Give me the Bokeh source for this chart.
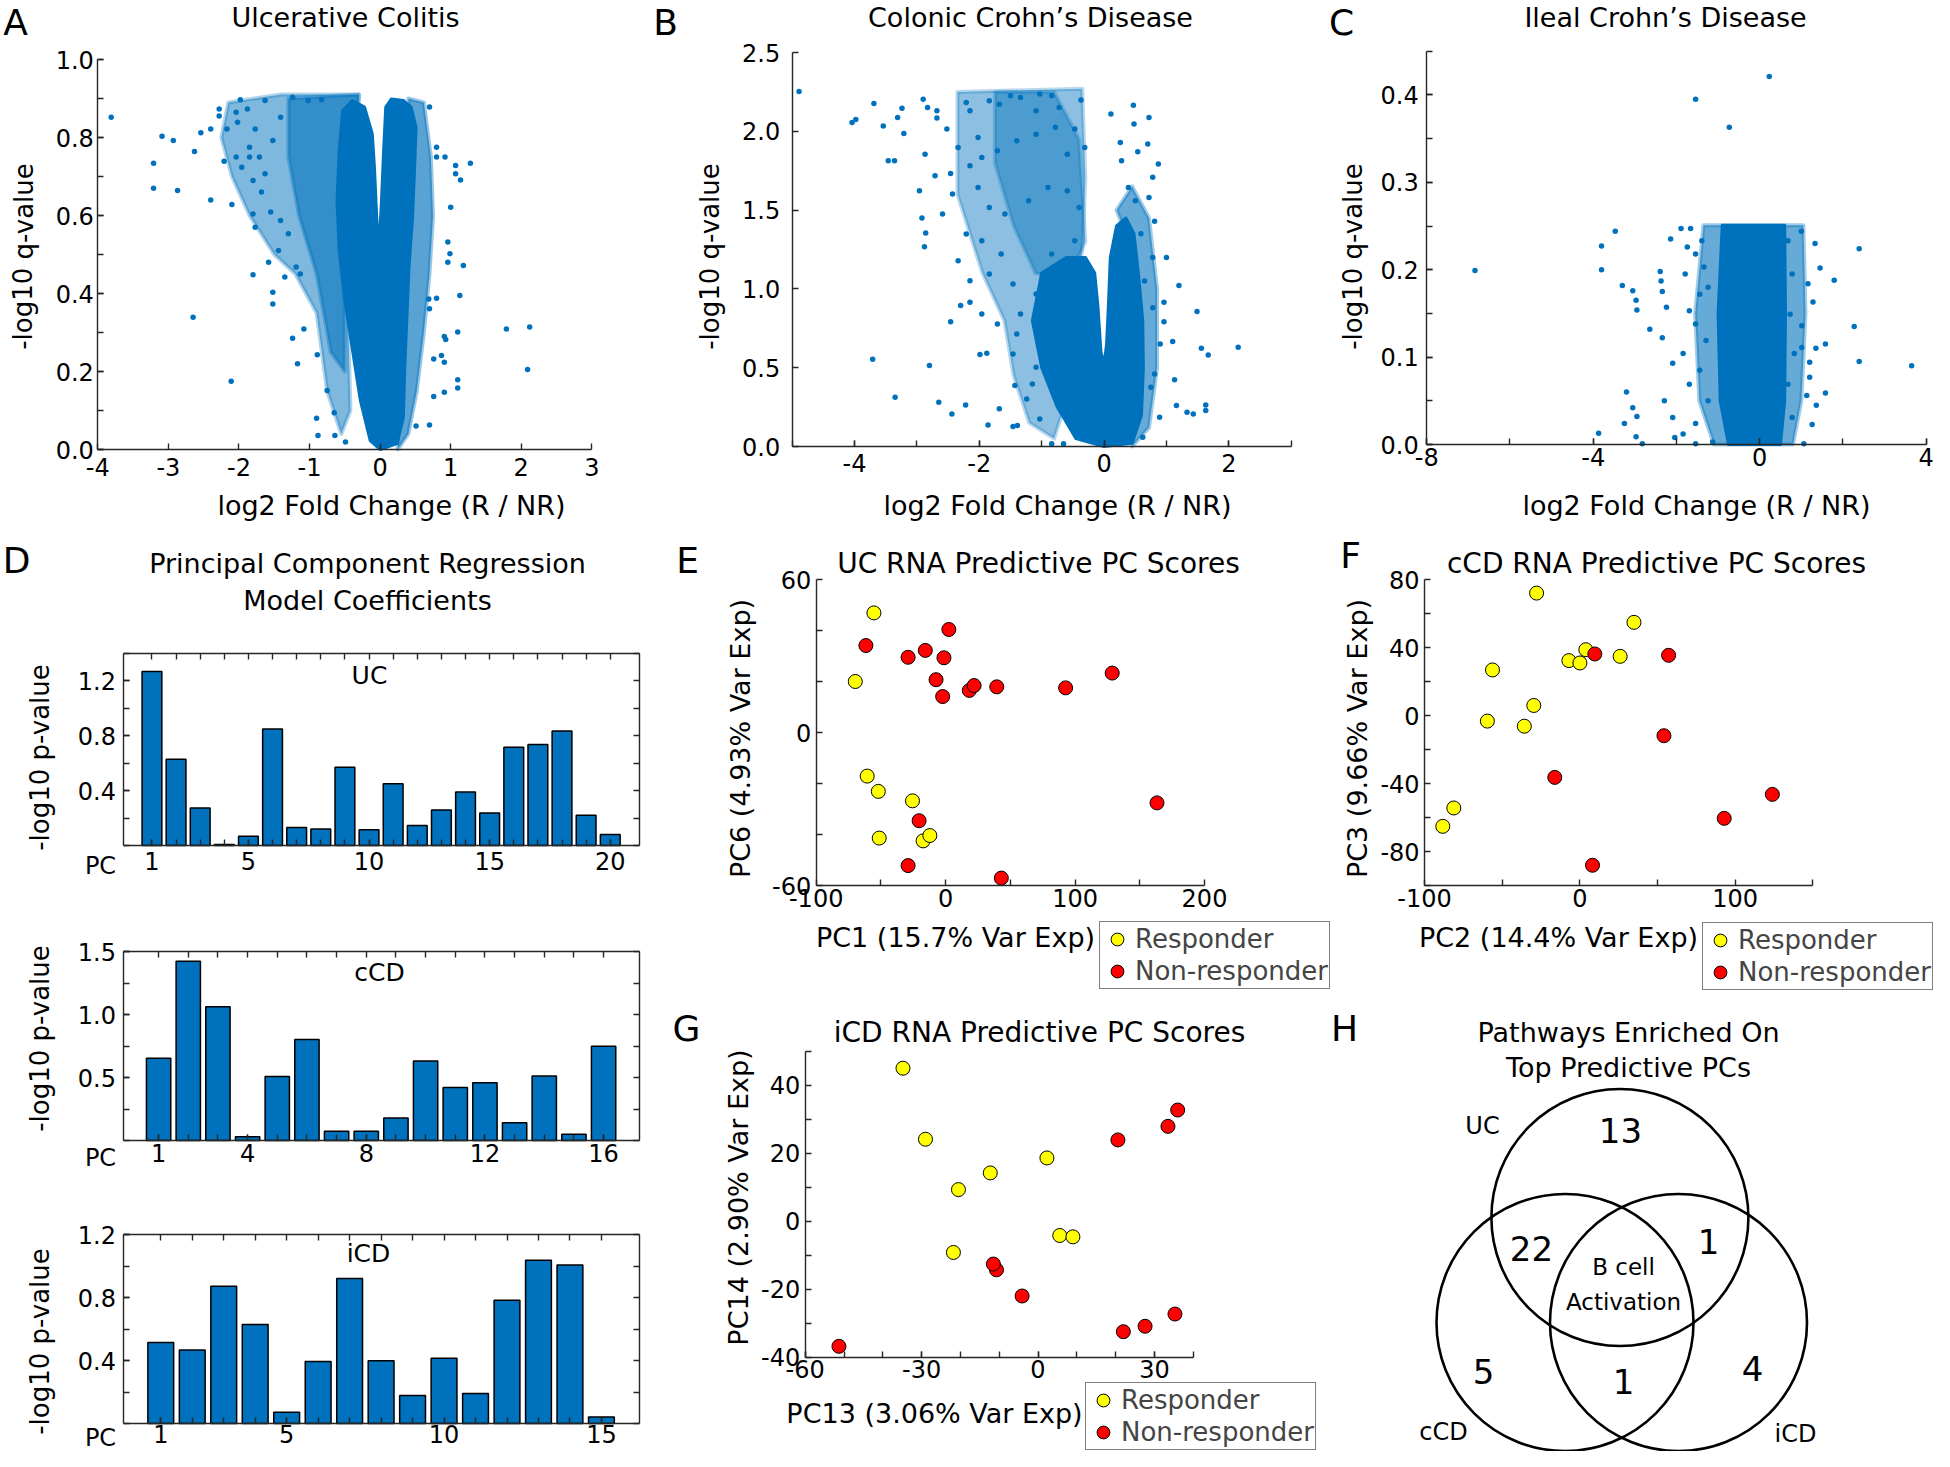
from bokeh.plotting import figure
from bokeh.models import (Range1d, FixedTicker, PrintfTickFormatter, Label,
                          LinearAxis, Legend, LegendItem)
from bokeh.layouts import row, column
from bokeh.embed import file_html
from bokeh.resources import INLINE
from bokeh.core.properties import value

FONT = "DejaVu Sans"
BLUE = "#0072BD"
AXC = "#262626"
YEL = "#FFFF00"
RED = "#FF0000"

# ===================== DATA =====================
# ---- A: Ulcerative Colitis volcano (log2 FC, -log10 q) ----
uc_core = [(0.0, 0.0), (0.24, 0.015), (0.33, 0.083), (0.35, 0.211), (0.38, 0.339), (0.41, 0.468),
           (0.46, 0.596), (0.49, 0.724), (0.51, 0.826), (0.44, 0.878), (0.33, 0.895), (0.16, 0.899),
           (0.08, 0.878), (0.05, 0.767), (0.02, 0.638), (-0.02, 0.502), (-0.05, 0.604), (-0.08, 0.724),
           (-0.11, 0.809), (-0.22, 0.878), (-0.39, 0.895), (-0.53, 0.869), (-0.58, 0.767), (-0.61, 0.638),
           (-0.58, 0.51), (-0.50, 0.382), (-0.39, 0.254), (-0.28, 0.126), (-0.14, 0.023)]
uc_halo_light = [(-2.15, 0.89), (-1.4, 0.91), (-0.3, 0.91), (-0.45, 0.3), (-0.42, 0.1), (-0.55, 0.04),
                 (-0.75, 0.15), (-0.9, 0.35), (-1.2, 0.45), (-1.5, 0.5), (-1.85, 0.6), (-2.1, 0.7), (-2.25, 0.8)]
uc_halo_mid = [(-1.3, 0.9), (-0.3, 0.91), (-0.5, 0.45), (-0.5, 0.2), (-0.7, 0.25), (-0.9, 0.45),
               (-1.15, 0.6), (-1.3, 0.75)]
uc_halo_right = [(0.4, 0.9), (0.62, 0.89), (0.72, 0.75), (0.75, 0.6), (0.7, 0.45), (0.62, 0.3),
                 (0.52, 0.15), (0.4, 0.04), (0.25, 0.0), (0.3, 0.3), (0.45, 0.6)]
uc_points = [(-3.81, 0.852), (-3.09, 0.803), (-2.93, 0.792), (-3.21, 0.734), (-3.21, 0.670), (-2.87, 0.664),
             (-2.63, 0.764), (-2.40, 0.640), (-2.54, 0.812), (-2.40, 0.822), (-2.28, 0.873), (-2.28, 0.855),
             (-2.17, 0.822), (-2.21, 0.739), (-2.10, 0.628), (-2.65, 0.339), (-2.11, 0.175), (-1.80, 0.448),
             (-1.52, 0.403), (-1.52, 0.373), (-1.24, 0.285), (-1.17, 0.220), (-1.08, 0.309), (-0.90, 0.080),
             (-0.88, 0.036), (-0.64, 0.036), (-0.49, 0.019), (-0.89, 0.243), (-0.75, 0.151), (-0.65, 0.094),
             (1.79, 0.309), (2.12, 0.314), (2.09, 0.205), (1.28, 0.734), (1.07, 0.728), (1.07, 0.707),
             (1.14, 0.691), (1.00, 0.621), (1.18, 0.472), (1.13, 0.395), (1.10, 0.301), (1.10, 0.179),
             (1.10, 0.158), (0.91, 0.147), (0.76, 0.136), (0.76, 0.232), (0.91, 0.224), (0.91, 0.290),
             (0.93, 0.282), (0.87, 0.241), (0.96, 0.480), (0.99, 0.502), (0.96, 0.532), (0.92, 0.750),
             (0.80, 0.750), (0.80, 0.775), (0.70, 0.878), (0.70, 0.063), (0.51, 0.060), (0.80, 0.388),
             (0.69, 0.386), (0.70, 0.361),
             (-1.98, 0.897), (-1.88, 0.873), (-2.04, 0.865), (-2.02, 0.839), (-1.85, 0.775), (-2.04, 0.750),
             (-1.96, 0.724), (-1.80, 0.690), (-1.68, 0.660), (-1.80, 0.604), (-1.77, 0.570), (-1.55, 0.609),
             (-1.41, 0.587), (-1.44, 0.510), (-1.30, 0.553), (-1.19, 0.468), (-1.13, 0.450), (-1.58, 0.480),
             (-1.35, 0.442), (-1.85, 0.750), (-1.63, 0.707), (-1.52, 0.792), (-1.41, 0.852), (-1.63, 0.895),
             (-1.24, 0.903), (-1.02, 0.895), (-0.83, 0.897), (-1.77, 0.822), (-1.71, 0.750)]

# ---- B: Colonic Crohn's Disease volcano ----
ccd_core = [(0.0, 0.0), (0.45, 0.02), (0.6, 0.2), (0.63, 0.5), (0.62, 0.8), (0.55, 1.1), (0.48, 1.35),
            (0.35, 1.45), (0.2, 1.4), (0.1, 1.2), (0.07, 0.9), (0.04, 0.65), (0.0, 0.52), (-0.05, 0.6),
            (-0.1, 0.9), (-0.15, 1.1), (-0.3, 1.2), (-0.6, 1.2), (-1.0, 1.1), (-1.15, 0.8), (-1.0, 0.5),
            (-0.75, 0.25), (-0.45, 0.05)]
ccd_halo_light = [(-2.35, 2.25), (-0.35, 2.27), (-0.3, 1.7), (-0.35, 1.25), (-0.55, 0.7), (-0.6, 0.3),
                  (-0.8, 0.05), (-1.2, 0.15), (-1.45, 0.45), (-1.6, 0.8), (-1.95, 1.1), (-2.35, 1.6)]
ccd_halo_mid = [(-1.75, 2.25), (-0.8, 2.25), (-0.4, 1.95), (-0.3, 1.3), (-0.6, 1.05), (-1.1, 1.1),
                (-1.45, 1.4), (-1.75, 1.8)]
ccd_halo_right = [(0.2, 1.5), (0.45, 1.65), (0.72, 1.45), (0.85, 1.0), (0.85, 0.5), (0.72, 0.12),
                  (0.45, 0.0), (0.55, 0.6), (0.5, 1.2)]
ccd_points = [(-4.89, 2.253), (-3.69, 2.177), (-4.04, 2.056), (-3.98, 2.075), (-3.54, 2.033), (-3.24, 2.147),
              (-3.31, 2.088), (-3.21, 1.986), (-3.46, 1.813), (-3.36, 1.813), (-3.71, 0.554), (-3.35, 0.313),
              (-2.80, 0.514), (-2.96, 1.623), (-2.92, 1.450), (-2.88, 1.268), (-2.86, 1.355), (-2.90, 2.204),
              (-2.83, 2.151), (-2.68, 2.130), (-2.68, 2.084), (-2.87, 1.855), (-2.71, 1.718), (-2.46, 1.733),
              (-2.59, 1.475), (-2.46, 0.792), (-2.65, 0.281), (-2.44, 0.207), (-2.22, 0.264), (-2.52, 2.014),
              (-2.34, 1.898), (-2.43, 1.602), (-2.30, 0.894), (-2.15, 0.915), (-1.99, 0.583), (-1.88, 0.592),
              (-1.86, 0.137), (-1.68, 0.239), (-1.46, 0.127), (-1.39, 0.133), (-1.43, 0.387), (-1.24, 0.302),
              (-0.84, 0.017), (-0.65, 0.017), (-1.03, 0.175),
              (0.11, 2.109), (0.47, 2.166), (0.48, 2.046), (0.72, 2.088), (0.70, 1.919), (0.87, 1.792),
              (0.78, 1.708), (0.26, 1.929), (0.28, 1.813), (0.54, 1.870), (1.00, 1.200), (1.20, 1.021),
              (1.49, 0.856), (1.56, 0.623), (1.67, 0.581), (2.15, 0.630), (1.13, 0.423), (1.16, 0.260),
              (1.33, 0.218), (1.43, 0.207), (1.63, 0.264), (1.63, 0.228), (1.10, 0.666), (0.96, 0.792),
              (0.96, 0.915), (0.89, 0.186), (0.62, 0.059), (0.39, 1.644), (0.50, 1.56), (0.72, 1.58),
              (0.81, 1.43), (0.59, 1.35), (0.78, 1.20), (0.65, 1.05), (0.78, 0.88), (0.90, 0.65),
              (0.81, 0.46), (0.75, 0.376),
              (-1.84, 2.194), (-1.68, 2.172), (-1.50, 2.225), (-1.34, 2.215), (-1.03, 2.236), (-0.84, 2.225),
              (-0.37, 2.198), (-0.72, 2.151), (-1.09, 2.130), (-2.15, 2.130), (-2.21, 2.183), (-2.02, 1.961),
              (-1.96, 1.834), (-2.15, 1.781), (-1.71, 1.877), (-1.40, 1.940), (-1.09, 1.982), (-0.78, 2.025),
              (-0.47, 2.014), (-0.31, 1.898), (-0.59, 1.855), (-2.02, 1.644), (-1.84, 1.517), (-1.59, 1.475),
              (-1.21, 1.560), (-0.90, 1.644), (-0.59, 1.623), (-0.40, 1.517), (-2.21, 1.348), (-1.96, 1.306),
              (-1.65, 1.221), (-1.84, 1.095), (-1.46, 1.031), (-1.96, 0.841), (-1.71, 0.778), (-1.40, 0.714),
              (-1.46, 0.587), (-1.09, 0.503), (-1.15, 0.397), (-0.78, 0.313), (-0.90, 0.587), (-1.34, 0.841),
              (-1.09, 0.968), (-0.84, 1.221), (-0.47, 1.306), (-0.34, 1.095), (-2.34, 1.179), (-2.15, 1.052)]

# ---- C: Ileal Crohn's Disease volcano ----
icd_core = [(-0.75, 0.0), (0.5, 0.0), (0.6, 0.05), (0.62, 0.15), (0.6, 0.251), (-0.9, 0.251),
            (-1.0, 0.15), (-0.95, 0.05)]
icd_halo = [(-1.1, 0.0), (0.8, 0.0), (1.0, 0.05), (1.1, 0.15), (1.05, 0.251), (-1.35, 0.251),
            (-1.55, 0.15), (-1.45, 0.05)]
icd_points = [(-6.84, 0.199), (-3.80, 0.227), (-3.80, 0.200), (-3.47, 0.244), (-3.30, 0.182), (-3.05, 0.176),
              (-2.97, 0.165), (-2.95, 0.154), (-2.64, 0.132), (-3.20, 0.060), (-3.05, 0.042), (-2.95, 0.032),
              (-3.25, 0.024), (-2.97, 0.009), (-2.82, 0.001), (-3.87, 0.013), (-2.14, 0.235), (-1.89, 0.247),
              (-1.66, 0.247), (-2.39, 0.198), (-2.37, 0.187), (-2.34, 0.175), (-2.24, 0.157), (-2.34, 0.122),
              (-2.09, 0.093), (-2.29, 0.050), (-2.09, 0.031), (-2.04, 0.008), (-1.54, 0.395), (-0.73, 0.363),
              (0.23, 0.421), (2.39, 0.224), (1.79, 0.188), (2.27, 0.135), (2.39, 0.095), (3.65, 0.090),
              (1.58, 0.115), (1.58, 0.059), (1.45, 0.202), (1.33, 0.230), (1.28, 0.163), (1.16, 0.184),
              (1.00, 0.244), (1.35, 0.110), (1.36, 0.045), (1.26, 0.023), (1.20, 0.094), (1.13, 0.056),
              (1.20, 0.077), (1.06, 0.001), (1.01, 0.136), (1.01, 0.111),
              (-1.54, 0.001), (-1.13, 0.003), (-1.84, 0.012), (-1.54, 0.024), (-1.69, 0.069), (-1.44, 0.085),
              (-1.84, 0.104), (-1.54, 0.138), (-1.69, 0.153), (-1.44, 0.172), (-1.79, 0.195), (-1.54, 0.218),
              (-1.74, 0.226), (-1.39, 0.233), (-1.34, 0.203), (-1.24, 0.180), (-1.29, 0.119), (-1.24, 0.050),
              (0.68, 0.233), (0.78, 0.195), (0.73, 0.149), (0.83, 0.104), (0.68, 0.069), (0.78, 0.031)]

# ---- D: PCR model coefficients (-log10 p) ----
uc_pc_pvals = [1.268, 0.629, 0.273, 0.007, 0.068, 0.849, 0.132, 0.120, 0.571, 0.115,
               0.451, 0.146, 0.259, 0.390, 0.237, 0.717, 0.737, 0.834, 0.220, 0.080]
ccd_pc_pvals = [0.652, 1.422, 1.061, 0.029, 0.507, 0.802, 0.074, 0.074, 0.179, 0.631,
                0.420, 0.459, 0.140, 0.512, 0.050, 0.749]
icd_pc_pvals = [0.514, 0.466, 0.872, 0.629, 0.072, 0.394, 0.921, 0.398, 0.178, 0.415,
                0.190, 0.783, 1.037, 1.007, 0.042]
uc_pc_ticks = [1, 5, 10, 15, 20]
ccd_pc_ticks = [1, 4, 8, 12, 16]
icd_pc_ticks = [1, 5, 10, 15]

# ---- E: UC PC scores (PC1, PC6) ----
e_responder = [(-55.4, 46.9), (-69.8, 20.0), (-60.6, -17.1), (-52.0, -23.1), (-25.6, -26.8),
               (-51.3, -41.4), (-17.4, -42.5), (-12.2, -40.4)]
e_nonresponder = [(-61.6, 34.1), (2.5, 40.4), (-29.0, 29.5), (-15.7, 32.2), (-1.3, 29.3), (-7.4, 20.7),
                  (-2.3, 14.1), (18.3, 16.5), (22.0, 18.4), (39.5, 17.9), (92.7, 17.5), (128.7, 23.3),
                  (163.3, -27.6), (-20.5, -34.6), (-29.0, -52.2), (43.0, -57.1)]
# ---- F: cCD PC scores (PC2, PC3) ----
f_responder = [(-27.9, 72.0), (34.8, 54.8), (3.8, 38.7), (-7.1, 32.3), (0.0, 30.9), (25.9, 34.8),
               (-56.3, 26.8), (-29.7, 5.9), (-59.6, -3.3), (-35.8, -6.3), (-81.2, -54.4), (-88.3, -65.2)]
f_nonresponder = [(9.6, 36.2), (57.1, 35.4), (54.1, -11.9), (-16.2, -36.4), (123.9, -46.4),
                  (92.9, -60.5), (8.1, -88.1)]
# ---- G: iCD PC scores (PC13, PC14) ----
g_responder = [(-34.8, 45.0), (-29.0, 24.1), (2.3, 18.6), (-12.3, 14.2), (-20.5, 9.3), (5.6, -4.2),
               (9.0, -4.6), (-21.8, -9.2)]
g_nonresponder = [(36.0, 32.7), (33.5, 27.9), (20.6, 23.9), (-10.7, -14.3), (-11.5, -12.6), (-4.1, -22.0),
                  (35.3, -27.3), (27.6, -30.9), (22.0, -32.5), (-51.3, -36.8)]

# ---- H: Venn of enriched pathways ----
venn_sets = ["UC", "cCD", "iCD"]
venn_counts = ["13", "22", "1", "5", "1", "4"]
venn_center_text = ["B cell", "Activation"]


# ===================== HELPERS =====================
def xs(pairs):
    return [a for a, b in pairs]


def ys(pairs):
    return [b for a, b in pairs]


def make_fig(W, H, left, top, fw, fh, xr, yr, axes=True):
    """Frame covers the whole canvas; the axis box (left, top, fw, fh in px) maps to xr, yr."""
    a, b = xr
    c, d = yr
    sx = (b - a) / fw
    sy = (d - c) / fh
    X = Range1d(a - left * sx, a + (W - left) * sx)
    Y = Range1d(d - (H - top) * sy, d + top * sy)
    kw = dict(width=W, height=H, x_range=X, y_range=Y, output_backend="svg",
              toolbar_location=None, title=None, min_border=0,
              min_border_left=0, min_border_right=0, min_border_top=0, min_border_bottom=0)
    if not axes:
        kw.update(x_axis_type=None, y_axis_type=None)
    p = figure(**kw)
    if axes:
        p.xgrid.visible = False
        p.ygrid.visible = False
    p.outline_line_color = None
    p.background_fill_color = "white"
    p.border_fill_color = "white"
    fr = dict(left=left, top=top, fw=fw, fh=fh, xr=xr, yr=yr, W=W, H=H)
    return p, fr


def lab(p, fr, px, py, text, size, angle=0.0, align="center", baseline="middle"):
    x0, x1 = fr["xr"]
    y0, y1 = fr["yr"]
    x = x0 + (px - fr["left"]) / fr["fw"] * (x1 - x0)
    y = y1 - (py - fr["top"]) / fr["fh"] * (y1 - y0)
    p.add_layout(Label(x=x, y=y, text=text, text_font=FONT, text_font_size=f"{size}px",
                       text_align=align, text_baseline=baseline, angle=angle,
                       text_color="black"))


def style(ax, ticks, minor, fmt, standoff, loc, bounds, size=24, tlen=6):
    ax.fixed_location = loc
    ax.bounds = bounds
    ax.ticker = FixedTicker(ticks=ticks, minor_ticks=minor)
    ax.formatter = PrintfTickFormatter(format=fmt)
    ax.axis_line_color = AXC
    ax.axis_line_width = 1.4
    ax.major_tick_line_color = AXC
    ax.major_tick_line_width = 1.4
    ax.minor_tick_line_color = AXC
    ax.minor_tick_line_width = 1.4
    ax.major_tick_in = tlen
    ax.major_tick_out = 0
    ax.minor_tick_in = tlen
    ax.minor_tick_out = 0
    ax.major_label_standoff = standoff
    ax.major_label_text_font = FONT
    ax.major_label_text_font_size = f"{size}px"
    ax.major_label_text_color = "black"


def frange(a, b, step):
    out = []
    v = a
    while v <= b + 1e-9:
        out.append(round(v, 6))
        v += step
    return out


def volcano(W, H, left, top, fw, fh, xr, yr, core, halos, pts,
            xt, xminor, yt, yminor, xstand, ystand,
            letter, letter_pos, title, title_pos, xl_pos, yl_pos):
    p, fr = make_fig(W, H, left, top, fw, fh, xr, yr)
    for poly, a in halos:
        p.patch(xs(poly), ys(poly), fill_color=BLUE, fill_alpha=a, line_color=BLUE,
                line_alpha=a * 0.6, line_width=4, line_join="round")
    p.patch(xs(core), ys(core), fill_color=BLUE, line_color=BLUE, line_width=3, line_join="round")
    p.scatter(xs(pts), ys(pts), size=5.5, fill_color=BLUE, line_color=None)
    style(p.xaxis[0], xt, xminor, "%d", xstand, yr[0], xr)
    style(p.yaxis[0], yt, yminor, "%.1f", ystand, xr[0], yr)
    lab(p, fr, letter_pos[0], letter_pos[1], letter, 36)
    lab(p, fr, title_pos[0], title_pos[1], title, 27)
    lab(p, fr, xl_pos[0], xl_pos[1], "log2 Fold Change (R / NR)", 27)
    lab(p, fr, yl_pos[0], yl_pos[1], "-log10 q-value", 26, angle=1.5707963)
    return p


def bars(W, H, left, top, fw, fh, vals, ymax, xt, yt, yminor, name, name_pos, yl_y, pc_y,
         xstand, letter=False):
    n = len(vals)
    xr = (-0.2, n + 1.2)
    yr = (0, ymax)
    p, fr = make_fig(W, H, left, top, fw, fh, xr, yr)
    p.vbar(x=list(range(1, n + 1)), top=vals, bottom=0, width=0.82,
           fill_color=BLUE, line_color="black", line_width=1.5)
    allx = list(range(1, n + 1))
    style(p.xaxis[0], xt, allx, "%d", xstand, yr[0], xr)
    style(p.yaxis[0], yt, yminor, "%.1f", 7, xr[0], yr)
    ta = LinearAxis()
    style(ta, [], allx, "%d", 0, yr[1], xr)
    p.add_layout(ta, "above")
    ra = LinearAxis()
    style(ra, [], yminor, "%.1f", 0, xr[1], yr)
    p.add_layout(ra, "right")
    lab(p, fr, name_pos[0], name_pos[1], name, 25)
    lab(p, fr, 39, yl_y, "-log10 p-value", 26, angle=1.5707963)
    lab(p, fr, 100, pc_y, "PC", 24)
    if letter:
        lab(p, fr, 16, 30, "D", 36)
        lab(p, fr, 367, 33, "Principal Component Regression", 27)
        lab(p, fr, 367, 70, "Model Coefficients", 27)
    return p


def pca(W, H, left, top, fw, fh, xr, yr, resp, nonresp, xt, xminor, yt, yminor,
        letter, letter_pos, title, title_pos, xlabel, xl_pos, ylabel, yl_pos, leg_pos):
    p, fr = make_fig(W, H, left, top, fw, fh, xr, yr)
    r1 = p.scatter(xs(resp), ys(resp), size=14, fill_color=YEL, line_color="black", line_width=1)
    r2 = p.scatter(xs(nonresp), ys(nonresp), size=14, fill_color=RED, line_color="black", line_width=1)
    style(p.xaxis[0], xt, xminor, "%d", 3, yr[0], xr)
    style(p.yaxis[0], yt, yminor, "%d", 5, xr[0], yr)
    lab(p, fr, letter_pos[0], letter_pos[1], letter, 36)
    lab(p, fr, title_pos[0], title_pos[1], title, 28)
    lab(p, fr, xl_pos[0], xl_pos[1], xlabel, 27)
    lab(p, fr, yl_pos[0], yl_pos[1], ylabel, 27, angle=1.5707963)
    # legend bottom-left corner in canvas px -> offset from frame (= canvas) bottom-left
    leg = Legend(items=[LegendItem(label="Responder", renderers=[r1]),
                        LegendItem(label="Non-responder", renderers=[r2])],
                 location=(leg_pos[0], H - leg_pos[1]), orientation="vertical",
                 border_line_color="black", border_line_width=1.2,
                 background_fill_color="white", background_fill_alpha=1.0,
                 label_text_font=FONT, label_text_font_size="26px",
                 glyph_width=32, glyph_height=32, label_height=32, label_standoff=2,
                 padding=1, spacing=0, margin=0)
    p.add_layout(leg)
    return p


# ===================== PANELS =====================
pA = volcano(647, 530, 97.3, 59, 494, 390, (-4, 3), (0, 1.0), uc_core,
             [(uc_halo_light, 0.5), (uc_halo_mid, 0.6), (uc_halo_right, 0.65)], uc_points,
             list(range(-4, 4)), [], frange(0, 1.0, 0.2), frange(0, 1.0, 0.1), 8, 4,
             "A", (15, 22), "Ulcerative Colitis", (345, 17), (391, 505), (23, 256))

pB = volcano(646, 530, 144.7, 52, 499, 394, (-5, 3), (0, 2.5), ccd_core,
             [(ccd_halo_light, 0.45), (ccd_halo_mid, 0.45), (ccd_halo_right, 0.6)], ccd_points,
             [-4, -2, 0, 2], list(range(-5, 4)), frange(0, 2.5, 0.5), [], 7, 12,
             "B", (18, 22), "Colonic Crohn\u2019s Disease", (383, 17), (410, 505), (62, 256))

pC = volcano(641, 530, 133.2, 50.7, 499.5, 393.3, (-8, 4), (0, 0.45), icd_core,
             [(icd_halo, 0.6)], icd_points,
             [-8, -4, 0, 4], list(range(-8, 5, 2)), frange(0, 0.4, 0.1), frange(0, 0.45, 0.05), 3, 8,
             "C", (48, 22), "Ileal Crohn\u2019s Disease", (372, 17), (403, 505), (59, 256))

pUC = bars(647, 353, 122.5, 123, 516.2, 192, uc_pc_pvals, 1.4, uc_pc_ticks,
           [0.4, 0.8, 1.2], frange(0, 1.4, 0.2), "UC", (369, 145), 227, 335, 6, letter=True)
pCCD = bars(647, 292, 122.5, 68, 516.2, 189, ccd_pc_pvals, 1.5, ccd_pc_ticks,
            [0.5, 1.0, 1.5], frange(0, 1.5, 0.25), "cCD", (379, 89), 155, 274, 3)
pICD = bars(647, 276, 122.5, 59, 516.2, 189, icd_pc_pvals, 1.2, icd_pc_ticks,
            [0.4, 0.8, 1.2], frange(0, 1.2, 0.2), "iCD", (368, 78), 166, 262, 1)

pE = pca(689, 470, 168.7, 49, 388.3, 306, (-100, 200), (-60, 60), e_responder, e_nonresponder,
         [-100, 0, 100, 200], [-50, 50, 150], [-60, 0, 60], [-40, -20, 20, 40],
         "E", (40, 30), "UC RNA Predictive PC Scores", (391, 33),
         "PC1 (15.7% Var Exp)", (308, 407), "PC6 (4.93% Var Exp)", (93, 208), (452, 459))

pF = pca(598, 470, 88.1, 49, 388.3, 306, (-100, 150), (-100, 80), f_responder, f_nonresponder,
         [-100, 0, 100], [-50, 50, 150], [-80, -40, 0, 40, 80], [-100, -60, -20, 20, 60],
         "F", (14, 25), "cCD RNA Predictive PC Scores", (320, 33),
         "PC2 (14.4% Var Exp)", (222, 407), "PC3 (9.66% Var Exp)", (21, 208), (366, 460))

pG = pca(683, 451, 157.7, 50.7, 388, 306, (-60, 40), (-40, 50), g_responder, g_nonresponder,
         [-60, -30, 0, 30], list(range(-60, 41, 10)), [-40, -20, 0, 20, 40], [-30, -10, 10, 30, 50],
         "G", (39, 28), "iCD RNA Predictive PC Scores", (392, 32),
         "PC13 (3.06% Var Exp)", (287, 413), "PC14 (2.90% Var Exp)", (91, 197), (438, 450))

# ---- H: Venn ----
pH, frH = make_fig(604, 451, 0, 0, 604, 451, (0, 604), (451, 0), axes=False)
venn_cx = [289.4, 234.5, 348.0]
venn_cy = [217.0, 322.0, 322.0]
pH.ellipse(x=venn_cx, y=venn_cy, width=257, height=257, fill_color=None,
           line_color="black", line_width=2.6)
count_x = [290, 201, 378, 153, 293, 422]
count_y = [130, 248, 241, 371, 381, 368]
pH.text(x=count_x, y=count_y, text=venn_counts, text_font=value(FONT), text_font_size="34px",
        text_align="center", text_baseline="middle", text_color="black")
pH.text(x=[293, 293], y=[266, 301], text=venn_center_text, text_font=value(FONT),
        text_font_size="23px", text_align="center", text_baseline="middle", text_color="black")
pH.text(x=[152, 113, 465], y=[125, 431, 433], text=venn_sets, text_font=value(FONT),
        text_font_size="24px", text_align="center", text_baseline="middle", text_color="black")
lab(pH, frH, 14, 28, "H", 36)
lab(pH, frH, 298, 32, "Pathways Enriched On", 27)
lab(pH, frH, 298, 67, "Top Predictive PCs", 27)

# ===================== LAYOUT =====================
top_row = row(pA, pB, pC, spacing=0)
d_col = column(pUC, pCCD, pICD, spacing=0)
right_block = column(row(pE, pF, spacing=0), row(pG, pH, spacing=0), spacing=0)
page = column(top_row, row(d_col, right_block, spacing=0), spacing=0)

open("out.html", "w", encoding="utf-8").write(file_html(page, INLINE))
